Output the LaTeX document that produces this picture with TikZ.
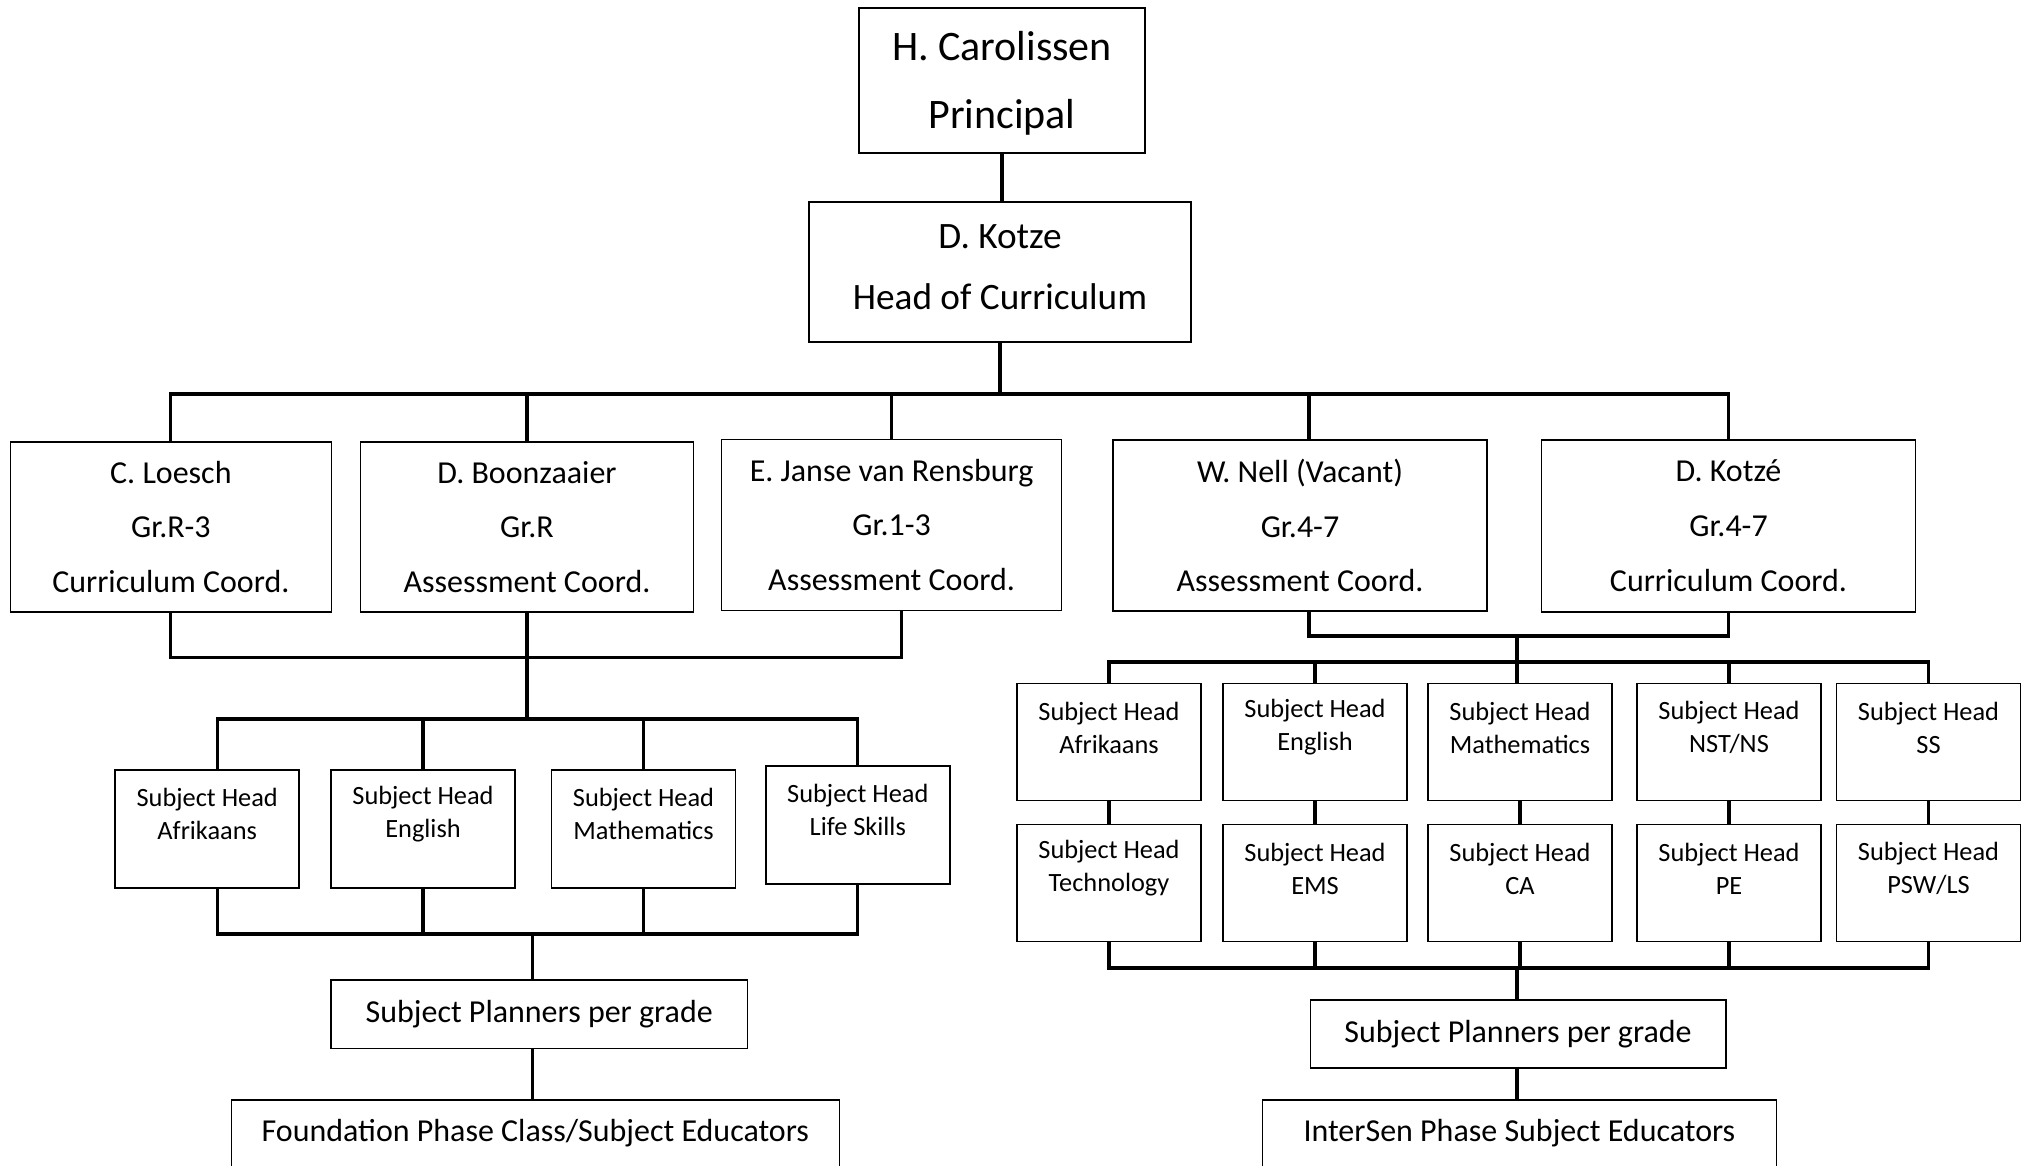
\documentclass[tikz,border=0pt]{standalone}
\usepackage{fontspec}
\setmainfont{Carlito}

\begin{document}
\begin{tikzpicture}[
    box/.style={draw, line width=0.45pt, align=center, inner sep=0pt},
    link/.style={line width=0.9pt},
    toptext/.style={font=\fontsize{11.95}{19.4}\selectfont},
    headtext/.style={font=\fontsize{10.6}{17.4}\selectfont, text depth=8pt},
    coordtext/.style={font=\fontsize{9.1}{15.6}\selectfont},
    shbox/.style={box, minimum width=1.84cm, minimum height=1.18cm},
    shtext/.style={align=center, inner sep=0pt, font=\fontsize{7.5}{9.4}\selectfont},
    planbox/.style={box, font=\fontsize{9.1}{11}\selectfont, minimum height=0.685cm}
]
    \useasboundingbox (0,0) rectangle (20.29,-11.65);

    \node[box, toptext, minimum width=2.86cm, minimum height=1.45cm] (principal) at (10.02,-0.805) {\strut H. Carolissen\\Principal\strut};
    \node[box, headtext, minimum width=3.82cm, minimum height=1.40cm] (head) at (10.00,-2.72) {\strut D. Kotze\\Head of Curriculum};

    \node[box, coordtext, minimum width=3.21cm, minimum height=1.70cm] (loesch) at (1.709,-5.27) {C. Loesch\\Gr.R-3\\Curriculum Coord.};
    \node[box, coordtext, minimum width=3.33cm, minimum height=1.70cm] (boonz) at (5.27,-5.27) {D. Boonzaaier\\Gr.R\\Assessment Coord.};
    \node[box, coordtext, minimum width=3.40cm, minimum height=1.71cm] (janse) at (8.916,-5.25) {E. Janse van Rensburg\\Gr.1-3\\Assessment Coord.};
    \node[box, coordtext, minimum width=3.745cm, minimum height=1.71cm] (nell) at (13.0,-5.255) {W. Nell (Vacant)\\Gr.4-7\\Assessment Coord.};
    \node[box, coordtext, minimum width=3.74cm, minimum height=1.72cm] (kotzeB) at (17.285,-5.26) {D. Kotzé\\Gr.4-7\\Curriculum Coord.};

    \coordinate (busTop) at (10.03,-3.94);
    \coordinate (busL) at (5.27,-6.577);
    \coordinate (busL2) at (5.27,-7.19);
    \coordinate (busL3) at (5.325,-9.34);
    \coordinate (busR) at (15.17,-6.36);
    \coordinate (busR2) at (15.17,-6.62);
    \coordinate (busR3) at (15.17,-9.68);

    \node[shbox] (afrF) at (2.072,-8.29) {};
    \node[shbox] (engF) at (4.23,-8.29) {};
    \node[shbox] (mathF) at (6.435,-8.29) {};
    \node[shbox] (lifeF) at (8.578,-8.25) {};
    \node[shtext] (afrFt) at ([yshift=1.5mm]afrF.center) {Subject Head\\Afrikaans};
    \node[shtext] (engFt) at ([yshift=1.5mm]engF.center) {Subject Head\\English};
    \node[shtext] (mathFt) at ([yshift=1.5mm]mathF.center) {Subject Head\\Mathematics};
    \node[shtext] (lifeFt) at ([yshift=1.5mm]lifeF.center) {Subject Head\\Life Skills};

    \node[planbox, minimum width=4.164cm] (planL) at (5.392,-10.143) {Subject Planners per grade};
    \node[planbox, minimum width=6.078cm, minimum height=0.67cm] (found) at (5.354,-11.335) {Foundation Phase Class/Subject Educators};

    \node[shbox, minimum height=1.17cm] (afrI) at (11.09,-7.42) {};
    \node[shbox, minimum height=1.17cm] (engI) at (13.15,-7.42) {};
    \node[shbox, minimum height=1.17cm] (mathI) at (15.2,-7.42) {};
    \node[shbox, minimum height=1.17cm] (nstI) at (17.29,-7.42) {};
    \node[shbox, minimum height=1.17cm] (ssI) at (19.285,-7.42) {};
    \node[shbox, minimum height=1.17cm] (techI) at (11.09,-8.83) {};
    \node[shbox, minimum height=1.17cm] (emsI) at (13.15,-8.83) {};
    \node[shbox, minimum height=1.17cm] (caI) at (15.2,-8.83) {};
    \node[shbox, minimum height=1.17cm] (peI) at (17.29,-8.83) {};
    \node[shbox, minimum height=1.17cm] (pswI) at (19.285,-8.83) {};
    \node[shtext] (afrIt) at ([yshift=1.45mm]afrI.center) {Subject Head\\Afrikaans};
    \node[shtext] (engIt) at ([yshift=1.45mm]engI.center) {Subject Head\\English};
    \node[shtext] (mathIt) at ([yshift=1.45mm]mathI.center) {Subject Head\\Mathematics};
    \node[shtext] (nstIt) at ([yshift=1.45mm]nstI.center) {Subject Head\\NST/NS};
    \node[shtext] (ssIt) at ([yshift=1.45mm]ssI.center) {Subject Head\\SS};
    \node[shtext] (techIt) at ([yshift=1.45mm]techI.center) {Subject Head\\Technology};
    \node[shtext] (emsIt) at ([yshift=1.45mm]emsI.center) {Subject Head\\EMS};
    \node[shtext] (caIt) at ([yshift=1.45mm]caI.center) {Subject Head\\CA};
    \node[shtext] (peIt) at ([yshift=1.45mm]peI.center) {Subject Head\\PE};
    \node[shtext] (pswIt) at ([yshift=1.45mm]pswI.center) {Subject Head\\PSW/LS};

    \node[planbox, minimum width=4.154cm] (planR) at (15.18,-10.34) {Subject Planners per grade};
    \node[planbox, minimum width=5.138cm, minimum height=0.67cm] (interS) at (15.194,-11.335) {InterSen Phase Subject Educators};

    \draw[link] (principal.south) -- (principal.south |- head.north);
    \draw[link] (head.south) -- (head.south |- busTop);
    \draw[link] (loesch.north) |- (busTop) -| (kotzeB.north);
    \draw[link] (boonz.north) -- (boonz.north |- busTop);
    \draw[link] (janse.north) -- (janse.north |- busTop);
    \draw[link] ([xshift=0.9mm]nell.north) -- ([xshift=0.9mm]nell.north |- busTop);

    \draw[link] (loesch.south) |- (busL) -| ([xshift=1mm]janse.south);
    \draw[link] (boonz.south) -- (busL2);
    \draw[link] ([xshift=1mm]afrF.north) |- (busL2) -| (lifeF.north);
    \draw[link] (engF.north) -- (engF.north |- busL2);
    \draw[link] (mathF.north) -- (mathF.north |- busL2);
    \draw[link] ([xshift=1mm]afrF.south) |- (busL3) -| (lifeF.south);
    \draw[link] (engF.south) -- (engF.south |- busL3);
    \draw[link] (mathF.south) -- (mathF.south |- busL3);
    \draw[link] (busL3) -- (busL3 |- planL.north);
    \draw[link] (busL3 |- planL.south) -- (busL3 |- found.north);

    \draw[link] ([xshift=0.9mm]nell.south) |- (busR) -| (kotzeB.south);
    \draw[link] (busR) -- (busR2);
    \draw[link] (afrI.north) |- (busR2) -| (ssI.north);
    \draw[link] (engI.north) -- (engI.north |- busR2);
    \draw[link] (busR2) -- (busR2 |- mathI.north);
    \draw[link] (nstI.north) -- (nstI.north |- busR2);
    \draw[link] (afrI.south) -- (techI.north);
    \draw[link] (engI.south) -- (emsI.north);
    \draw[link] (mathI.south) -- (caI.north);
    \draw[link] (nstI.south) -- (peI.north);
    \draw[link] (ssI.south) -- (pswI.north);
    \draw[link] (techI.south) |- (busR3) -| (pswI.south);
    \draw[link] (emsI.south) -- (emsI.south |- busR3);
    \draw[link] (caI.south) -- (caI.south |- busR3);
    \draw[link] (peI.south) -- (peI.south |- busR3);
    \draw[link] (busR3) -- (busR3 |- planR.north);
    \draw[link] (busR3 |- planR.south) -- (busR3 |- interS.north);
\end{tikzpicture}
\end{document}
